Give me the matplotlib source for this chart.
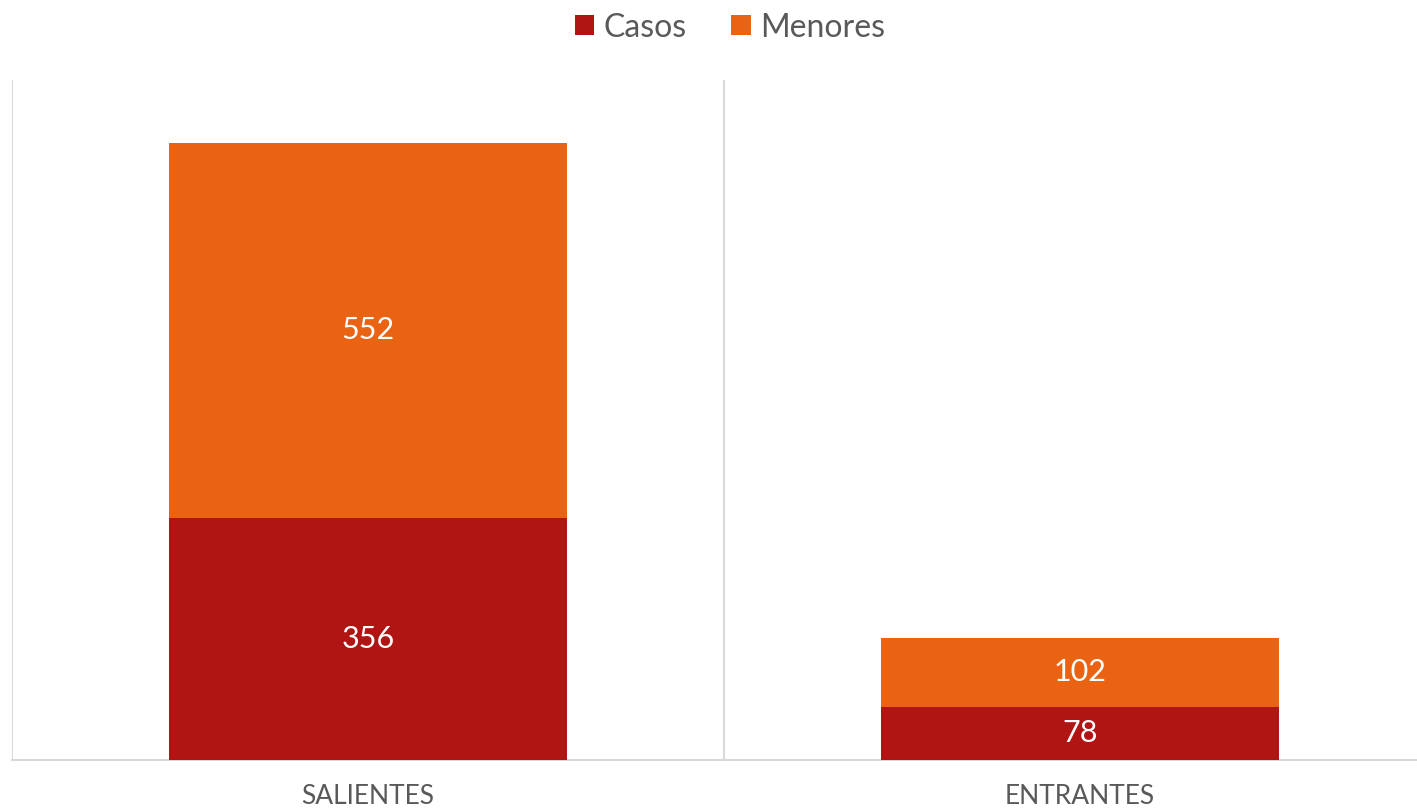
import numpy as np
import matplotlib.pyplot as plt
plt.rcParams['font.family'] = ['Lato', 'DejaVu Sans']

categorias = ['SALIENTES', 'ENTRANTES']
casos = [356, 78]
menores = [552, 102]

c_casos = '#B01513'
c_menores = '#EA6312'
gris = '#595959'

fig = plt.figure(figsize=(14.17, 8.09), dpi=100)
ax = fig.add_axes([12/1417., 49/809., 1424/1417., 680/809.])

x = np.arange(len(categorias))
w = 0.56
b1 = ax.bar(x, casos, w, color=c_casos, label='Casos', zorder=3)
b2 = ax.bar(x, menores, w, bottom=casos, color=c_menores, label='Menores', zorder=3)

for bars, vals, base in [(b1, casos, [0, 0]), (b2, menores, casos)]:
    for r, v, b in zip(bars, vals, base):
        ax.text(r.get_x() + r.get_width()/2, b + v/2, str(v), ha='center', va='center',
                color='white', fontsize=22)

ax.set_xlim(-0.5, 1.5)
ax.set_ylim(0, 1000)
for xv in [-0.5, 0.5, 1.5]:
    ax.axvline(xv, color='#D9D9D9', lw=1.5, zorder=1)
for s in ['top', 'right', 'left']:
    ax.spines[s].set_visible(False)
ax.spines['bottom'].set_color('#D9D9D9')
ax.spines['bottom'].set_linewidth(1.5)
ax.set_yticks([])
ax.set_xticks(x)
ax.set_xticklabels(categorias, fontsize=19, color=gris)
ax.tick_params(axis='x', length=0, pad=17)

leg = fig.legend(loc='upper center', bbox_to_anchor=(730/1417., 1.02), ncol=2, frameon=False,
                 fontsize=23, handlelength=0.6, handleheight=0.6, handletextpad=0.3,
                 columnspacing=1.4, labelcolor=gris)

fig.savefig('out.png', dpi=100)
